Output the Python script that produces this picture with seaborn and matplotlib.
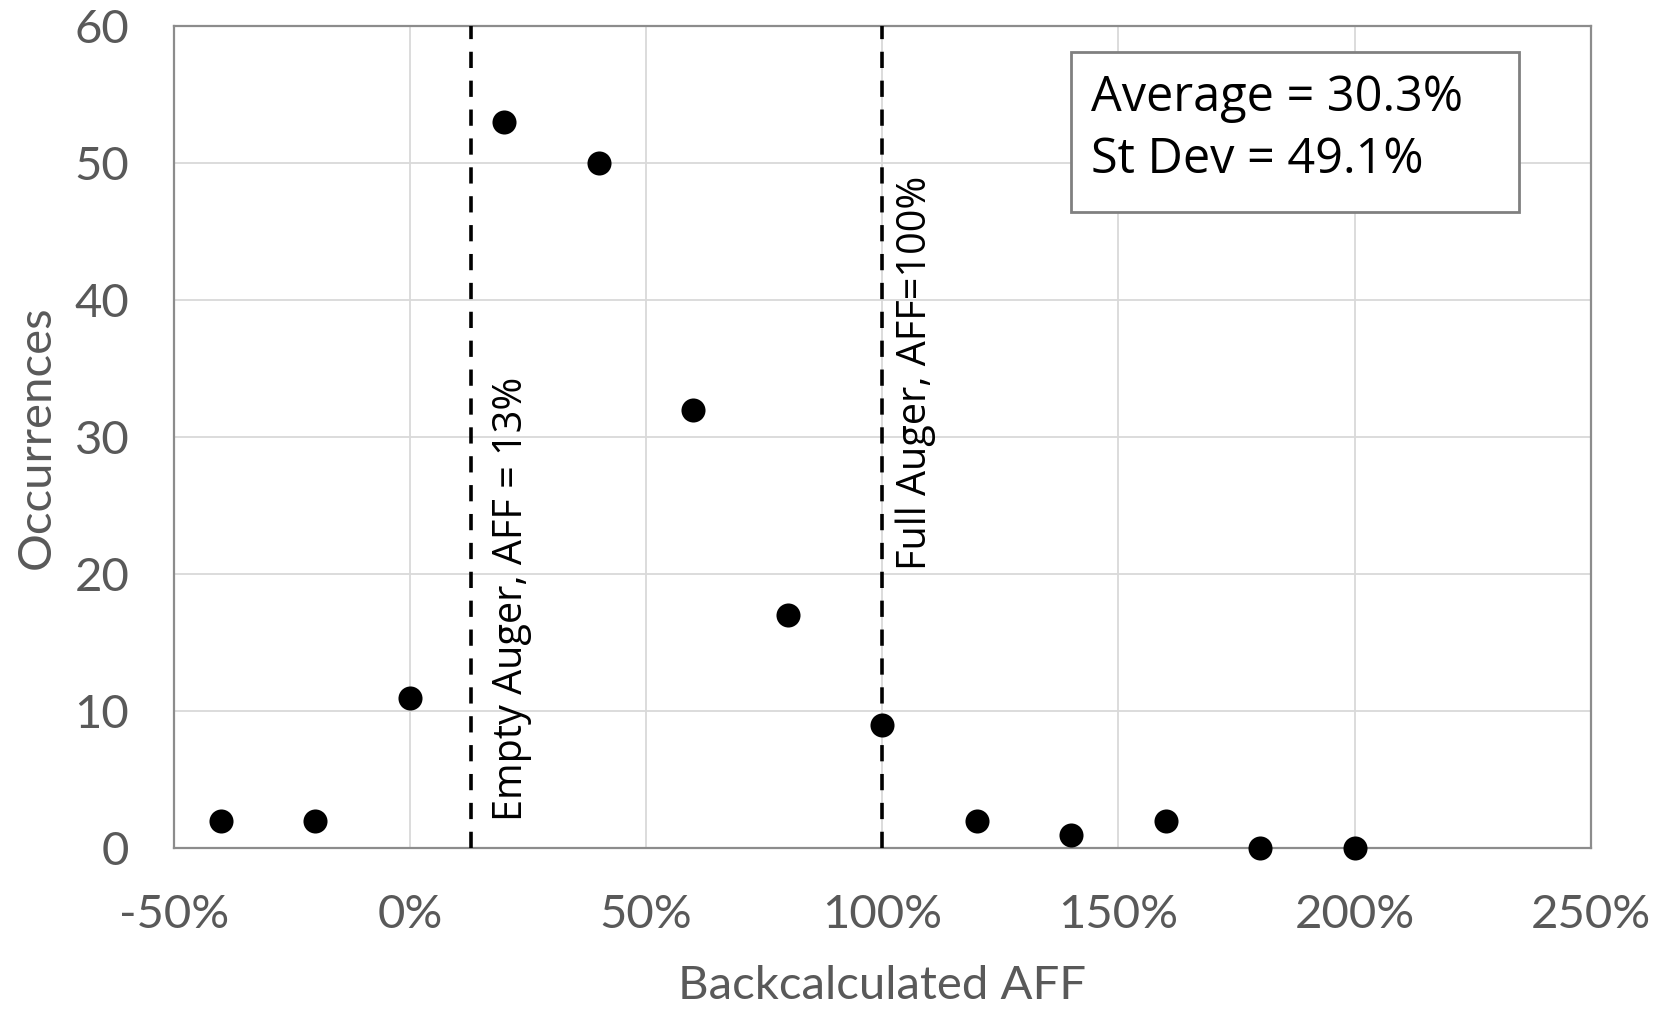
import numpy as np
import matplotlib
matplotlib.use("Agg")
import matplotlib.pyplot as plt
from matplotlib.patches import Rectangle
from matplotlib.ticker import FuncFormatter
import pandas as pd
import seaborn as sns

sns.set_theme(style="white")
plt.rcParams['font.family'] = ['Lato', 'DejaVu Sans']

# backcalculated AFF bins (fraction) and number of occurrences
aff_bins = [-0.4, -0.2, 0.0, 0.2, 0.4, 0.6, 0.8, 1.0, 1.2, 1.4, 1.6, 1.8, 2.0]
occurrences = [2, 2, 11, 53, 50, 32, 17, 9, 2, 1, 2, 0, 0]
empty_aff = 0.13
full_aff = 1.00
stats_text = "Average = 30.3%\nSt Dev = 49.1%"

df = pd.DataFrame({"aff": aff_bins, "occ": occurrences})

gray = "#595959"
fig = plt.figure(figsize=(16.71, 10.10), dpi=100)
ax = fig.add_axes([0.104, 0.160, 0.848, 0.814])

sns.scatterplot(data=df, x="aff", y="occ", ax=ax, s=300, color="black",
                edgecolor="black", linewidth=0, zorder=5, clip_on=False)

ax.axvline(empty_aff, color="black", ls=(0, (4.5, 3.5)), lw=2.6, zorder=4)
ax.axvline(full_aff, color="black", ls=(0, (4.5, 3.5)), lw=2.6, zorder=4)

ax.text(0.215, 2.0, "Empty Auger, AFF = 13%", rotation=90, ha="center", va="bottom",
        fontsize=28.5, color="black", family=["Open Sans", "DejaVu Sans"])
ax.text(1.07, 20.3, "Full Auger, AFF=100%", rotation=90, ha="center", va="bottom",
        fontsize=28.5, color="black", family=["Open Sans", "DejaVu Sans"])

# stats box
ax.add_patch(Rectangle((0.633, 0.774), 0.316, 0.195, transform=ax.transAxes,
                       facecolor="white", edgecolor="#808080", lw=2, zorder=6))
ax.text(0.647, 0.942, stats_text, transform=ax.transAxes, ha="left", va="top",
        fontsize=35, color="black", linespacing=1.33, zorder=7,
        family=["Open Sans", "DejaVu Sans"])

ax.set_xlim(-0.5, 2.5)
ax.set_ylim(0, 60)
ax.set_xticks(np.arange(-0.5, 2.51, 0.5))
ax.set_yticks(np.arange(0, 61, 10))
ax.xaxis.set_major_formatter(FuncFormatter(lambda v, p: "{:.0f}%".format(v * 100)))

ax.grid(True, color="#d9d9d9", lw=1.3)
ax.set_axisbelow(True)
for sp in ax.spines.values():
    sp.set_color("#8c8c8c")
    sp.set_linewidth(1.6)

ax.tick_params(axis="both", length=0, labelsize=34, labelcolor=gray)
ax.tick_params(axis="x", pad=33)
ax.tick_params(axis="y", pad=32)

ax.set_xlabel("Backcalculated AFF", fontsize=34, color=gray, labelpad=21)
ax.set_ylabel("Occurrences", fontsize=34, color=gray, labelpad=12)

fig.savefig("out.png", dpi=100)
